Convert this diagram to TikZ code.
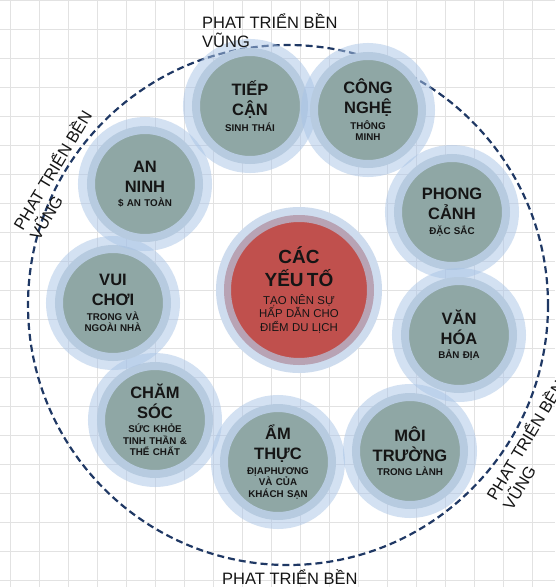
\documentclass[tikz,border=0pt]{standalone}
\usepackage{fontspec}
\setmainfont{Liberation Sans}
\usetikzlibrary{positioning}

\definecolor{halo}{HTML}{A9C4E6}
\definecolor{ring}{HTML}{B7CBE0}
\definecolor{bubfill}{HTML}{8FA7A5}
\definecolor{corered}{HTML}{C0504D}
\definecolor{coremauve}{HTML}{B8A3B4}
\definecolor{corehalo}{HTML}{CEDCEE}
\definecolor{navy}{HTML}{1F3864}
\definecolor{gridgray}{HTML}{E2E2E2}
\definecolor{ink}{HTML}{151515}

% title + small caption inside a bubble
\newcommand{\bubtext}[2]{{\fontsize{16.5}{20}\selectfont\bfseries #1\par}\vspace{2.9pt}{\fontsize{9.8}{11.5}\selectfont\bfseries #2\par}}

\begin{document}
\begin{tikzpicture}[
    x=1pt, y=-1pt,
    gridline/.style={draw=gridgray, line width=1pt},
    sustain/.style={draw=navy, line width=2.2pt, dash pattern=on 7pt off 4pt},
    bubble/.style={circle, minimum size=108pt, fill=bubfill, draw=ring, line width=8pt,
      preaction={draw=halo, draw opacity=.5, line width=26pt}},
    core/.style={circle, minimum size=143pt, fill=corered, draw=coremauve, line width=7pt,
      preaction={draw=corehalo, line width=23pt}},
    bubtxt/.style={text width=96pt, align=center, inner sep=0pt, text=ink},
    ringlabel/.style={font=\fontsize{16.5}{19}\selectfont, align=left, inner sep=0pt, text=ink}
    ]

    \useasboundingbox (0,0) rectangle (555,587);
    \fill[white] (0,0) rectangle (555,587);
    \foreach \gx in {10,39,...,555} \draw[gridline] (\gx,0) -- (\gx,587);
    \foreach \gy in {0,29,...,587} \draw[gridline] (0,\gy) -- (555,\gy);

    \coordinate (mid) at (288,305);
    \draw[sustain] (mid) circle[radius=260];

    \node[bubble] (tiep) at (250,106) {};
    \node[bubtxt] (tiep-txt) at (tiep) {\bubtext{TIẾP\\CẬN}{SINH THÁI}};
    \node[bubble] (cong) at (368,110) {};
    \node[bubtxt] (cong-txt) at (cong) {\bubtext{CÔNG\\NGHỆ}{THÔNG\\MINH}};
    \node[bubble] (phong) at (452,212) {};
    \node[bubtxt] (phong-txt) at (phong) {\bubtext{PHONG\\CẢNH}{ĐẶC SẮC}};
    \node[bubble] (van) at (459,335) {};
    \node[bubtxt] (van-txt) at (van) {\bubtext{VĂN\\HÓA}{BẢN ĐỊA}};
    \node[bubble] (moi) at (410,451) {};
    \node[bubtxt] (moi-txt) at (moi) {\bubtext{MÔI\\TRƯỜNG}{TRONG LÀNH}};
    \node[bubble] (am) at (278,462) {};
    \node[bubtxt] (am-txt) at (am) {\bubtext{ẨM\\THỰC}{ĐỊAPHƯƠNG\\VÀ CỦA\\KHÁCH SẠN}};
    \node[bubble] (cham) at (155,420) {};
    \node[bubtxt] (cham-txt) at (cham) {\bubtext{CHĂM\\SÓC}{SỨC KHỎE\\TINH THẦN \&\\THỂ CHẤT}};
    \node[bubble] (vui) at (113,303) {};
    \node[bubtxt] (vui-txt) at (vui) {\bubtext{VUI\\CHƠI}{TRONG VÀ\\NGOÀI NHÀ}};
    \node[bubble] (an) at (145,184) {};
    \node[bubtxt] (an-txt) at (an) {\bubtext{AN\\NINH}{\$ AN TOÀN}};

    \node[core] (core) at (299,290) {};
    \node[bubtxt, text width=120pt] (core-txt) at (core) {{\fontsize{19}{23}\selectfont\bfseries CÁC\\YẾU TỐ\par}\vspace{3.7pt}{\fontsize{11.4}{13.5}\selectfont TẠO NÊN SỰ\\HẤP DẪN CHO\\ĐIỂM DU LỊCH\par}};

    \node[ringlabel, anchor=north west] (lbl-top) at (202,14) {PHAT TRIỂN BỀN\\VŨNG};
    \node[ringlabel, anchor=north west, rotate=59] (lbl-left) at (10,224) {PHAT TRIỂN BỀN\\VŨNG};
    \node[ringlabel, anchor=north west, rotate=59] (lbl-right) at (483,494) {PHAT TRIỂN BỀN\\VŨNG};
    \node[ringlabel, anchor=north west] (lbl-bottom) at (222,570) {PHAT TRIỂN BỀN};

  \end{tikzpicture}
\end{document}
